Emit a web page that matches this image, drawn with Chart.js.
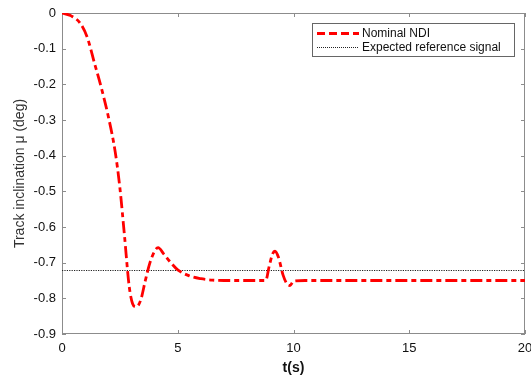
<!DOCTYPE html>
<html>
<head>
<meta charset="utf-8">
<script src="https://cdn.jsdelivr.net/npm/chart.js@4/dist/chart.umd.min.js"></script>
<style>
  html, body { margin: 0; padding: 0; background: #fff; }
  #wrap { width: 531px; height: 377px; position: relative; }
</style>
</head>
<body>
<div id="wrap"><canvas id="c" width="531" height="377"></canvas></div>
<script>
// ---- data ----
const timeS = [0, 0.4, 0.8, 1.1, 1.4, 1.7, 2.0, 2.3, 2.5, 2.7, 2.9, 3.05, 3.2, 3.4, 3.6, 3.8, 4.0, 4.15, 4.4, 4.7, 5.0, 5.5, 6.0, 6.5, 7.0, 8.0, 8.8, 8.95, 9.1, 9.2, 9.35, 9.55, 9.75, 9.85, 10.0, 10.5, 12, 15, 20];
const nominalNDI = [0, -0.008, -0.03, -0.07, -0.14, -0.21, -0.29, -0.39, -0.49, -0.625, -0.765, -0.815, -0.824, -0.805, -0.75, -0.70, -0.668, -0.658, -0.676, -0.70, -0.72, -0.737, -0.745, -0.749, -0.75, -0.75, -0.75, -0.71, -0.675, -0.668, -0.685, -0.735, -0.762, -0.764, -0.752, -0.75, -0.75, -0.75, -0.75];
const refTime = [0, 20];
const refSignal = [-0.722, -0.722];
const seriesLabels = ['Nominal NDI', 'Expected reference signal'];
const xTicks = [0, 5, 10, 15, 20];
const yTicks = [0, -0.1, -0.2, -0.3, -0.4, -0.5, -0.6, -0.7, -0.8, -0.9];

const FONT = '"Liberation Sans", Arial, sans-serif';
const AXIS_COLOR = '#8c8c8c';

const framePlugin = {
  id: 'frame',
  beforeDatasetsDraw(chart) {
    const { ctx, chartArea: { left, right, top, bottom }, scales: { x, y } } = chart;
    ctx.save();
    ctx.strokeStyle = AXIS_COLOR;
    ctx.lineWidth = 1;
    ctx.strokeRect(Math.round(left) + 0.5, Math.round(top) + 0.5, Math.round(right - left) - 1, Math.round(bottom - top) - 1);
    const tl = 4;
    ctx.beginPath();
    x.ticks.forEach(t => {
      const px = Math.round(x.getPixelForValue(t.value)) + 0.5;
      ctx.moveTo(px, bottom); ctx.lineTo(px, bottom - tl);
      ctx.moveTo(px, top); ctx.lineTo(px, top + tl);
    });
    y.ticks.forEach(t => {
      const py = Math.round(y.getPixelForValue(t.value)) + 0.5;
      ctx.moveTo(left, py); ctx.lineTo(left + tl, py);
      ctx.moveTo(right, py); ctx.lineTo(right - tl, py);
    });
    ctx.stroke();
    ctx.restore();
  },
  afterDraw(chart) {
    const { ctx, chartArea: { right, top } } = chart;
    const bw = 202, bh = 33;
    const bx = Math.round(right - 11 - bw), by = Math.round(top + 10);
    ctx.save();
    ctx.fillStyle = '#fff';
    ctx.fillRect(bx, by, bw, bh);
    ctx.strokeStyle = '#666';
    ctx.lineWidth = 1;
    ctx.strokeRect(bx + 0.5, by + 0.5, bw, bh);
    const ds = chart.data.datasets;
    const rows = [by + 10, by + 24];
    ds.forEach((d, i) => {
      ctx.beginPath();
      ctx.strokeStyle = d.borderColor;
      ctx.lineWidth = i === 0 ? 2.8 : 1;
      ctx.setLineDash(i === 0 ? [8, 4] : [1, 1]);
      ctx.moveTo(bx + 5, rows[i] + 0.5);
      ctx.lineTo(bx + 47, rows[i] + 0.5);
      ctx.stroke();
      ctx.setLineDash([]);
      ctx.fillStyle = '#111';
      ctx.font = '12px ' + FONT;
      ctx.textBaseline = 'middle';
      ctx.fillText(d.label, bx + 50, rows[i] + 1);
    });
    ctx.restore();
  }
};

new Chart(document.getElementById('c'), {
  type: 'line',
  data: {
    datasets: [
      {
        label: seriesLabels[0],
        data: timeS.map((t, i) => ({ x: t, y: nominalNDI[i] })),
        borderColor: '#ff0000',
        borderWidth: 2.8,
        borderDash: [12, 4, 5, 4],
        pointRadius: 0,
        cubicInterpolationMode: 'monotone',
        fill: false
      },
      {
        label: seriesLabels[1],
        data: refTime.map((t, i) => ({ x: t, y: refSignal[i] })),
        borderColor: '#222222',
        borderWidth: 1.1,
        borderDash: [1.2, 1.2],
        pointRadius: 0,
        fill: false
      }
    ]
  },
  options: {
    responsive: false,
    animation: false,
    devicePixelRatio: 1,
    layout: { padding: { top: 13, right: 6, left: 0, bottom: 0 } },
    plugins: { legend: { display: false }, tooltip: { enabled: false } },
    scales: {
      x: {
        type: 'linear',
        min: 0, max: 20,
        afterBuildTicks: s => { s.ticks = xTicks.map(v => ({ value: v })); },
        ticks: { color: '#111', font: { family: FONT, size: 13 }, padding: 7, maxRotation: 0 },
        grid: { display: false, drawTicks: false },
        border: { display: false },
        title: { display: true, text: 't(s)', color: '#111', font: { family: FONT, size: 14, weight: 'bold' }, padding: { top: 0, bottom: 0 } },
        afterFit: s => { s.height = 43; s.paddingLeft = 0; s.paddingRight = 0; }
      },
      y: {
        type: 'linear',
        min: -0.9, max: 0,
        afterBuildTicks: s => { s.ticks = yTicks.map(v => ({ value: v })); },
        ticks: { color: '#111', font: { family: FONT, size: 13 }, padding: 6, callback: v => String(Math.round(v * 10) / 10) },
        grid: { display: false, drawTicks: false },
        border: { display: false },
        title: { display: true, text: 'Track inclination μ (deg)', color: '#333', font: { family: FONT, size: 14 }, padding: { top: 12, bottom: 0 } },
        afterFit: s => { s.width = 62; s.paddingTop = 0; s.paddingBottom = 0; }
      }
    }
  },
  plugins: [framePlugin]
});
</script>
</body>
</html>
